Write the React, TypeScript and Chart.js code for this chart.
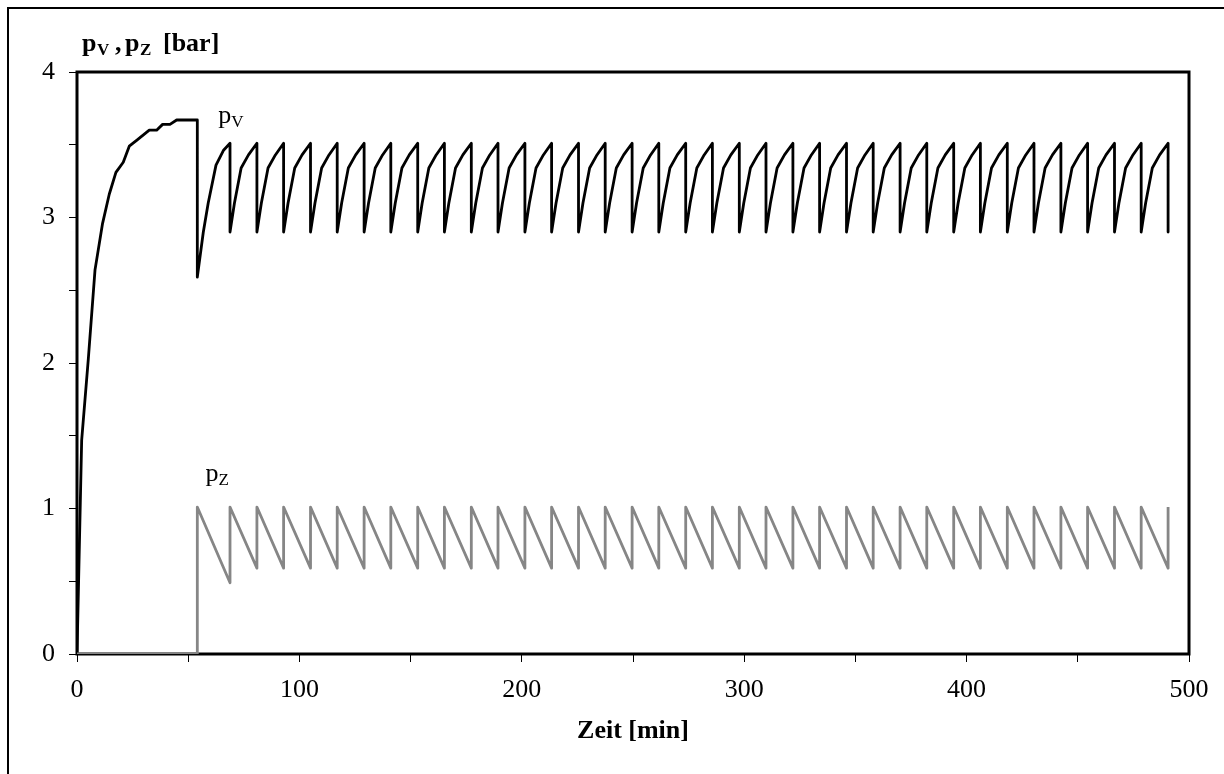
import React, { useEffect, useRef } from 'react';
import { Chart, registerables } from 'chart.js';

Chart.register(...registerables);

// Tick labels shown on the axes (other tick marks are unlabelled minor ticks)
const xTickLabels = ['0', '100', '200', '300', '400', '500'];
const yTickLabels = ['0', '1', '2', '3', '4'];

// p_V (black) – time [min]
const pvTimes = [
  0, 2.1, 5.1, 8.1, 11.5, 14.5, 17.5, 20.8, 23.5, 26.8, 32.5, 35.8, 38.5, 41.8, 44.8, 54.1,
  54.1, 56.8, 59.0, 62.5, 65.8, 68.8,
  68.8, 70.8, 73.8, 77.1, 80.9,
  80.9, 82.9, 85.9, 89.2, 92.9,
  92.9, 94.9, 97.9, 101.2, 105.0,
  105.0, 107.0, 110.0, 113.3, 117.0,
  117.0, 119.0, 122.0, 125.3, 129.1,
  129.1, 131.1, 134.1, 137.4, 141.1,
  141.1, 143.1, 146.1, 149.4, 153.2,
  153.2, 155.2, 158.2, 161.5, 165.2,
  165.2, 167.2, 170.2, 173.5, 177.3,
  177.3, 179.3, 182.3, 185.6, 189.3,
  189.3, 191.3, 194.3, 197.6, 201.4,
  201.4, 203.4, 206.4, 209.7, 213.4,
  213.4, 215.4, 218.4, 221.7, 225.5,
  225.5, 227.5, 230.5, 233.8, 237.5,
  237.5, 239.5, 242.5, 245.8, 249.6,
  249.6, 251.6, 254.6, 257.9, 261.6,
  261.6, 263.6, 266.6, 269.9, 273.7,
  273.7, 275.7, 278.7, 282.0, 285.7,
  285.7, 287.7, 290.7, 294.0, 297.8,
  297.8, 299.8, 302.8, 306.1, 309.8,
  309.8, 311.8, 314.8, 318.1, 321.9,
  321.9, 323.9, 326.9, 330.2, 333.9,
  333.9, 335.9, 338.9, 342.2, 346.0,
  346.0, 348.0, 351.0, 354.3, 358.0,
  358.0, 360.0, 363.0, 366.3, 370.1,
  370.1, 372.1, 375.1, 378.4, 382.1,
  382.1, 384.1, 387.1, 390.4, 394.2,
  394.2, 396.2, 399.2, 402.5, 406.2,
  406.2, 408.2, 411.2, 414.5, 418.3,
  418.3, 420.3, 423.3, 426.6, 430.3,
  430.3, 432.3, 435.3, 438.6, 442.4,
  442.4, 444.4, 447.4, 450.7, 454.4,
  454.4, 456.4, 459.4, 462.7, 466.5,
  466.5, 468.5, 471.5, 474.8, 478.5,
  478.5, 480.5, 483.5, 486.8, 490.6,
  490.6,
];

// p_V (black) – pressure [bar]
const pvValues = [
  0, 1.47, 2.03, 2.64, 2.96, 3.16, 3.31, 3.38, 3.49, 3.53, 3.60, 3.60, 3.64, 3.64, 3.67, 3.67,
  2.59, 2.90, 3.10, 3.36, 3.46, 3.51,
  2.90, 3.10, 3.34, 3.43, 3.51,
  2.90, 3.10, 3.34, 3.43, 3.51,
  2.90, 3.10, 3.34, 3.43, 3.51,
  2.90, 3.10, 3.34, 3.43, 3.51,
  2.90, 3.10, 3.34, 3.43, 3.51,
  2.90, 3.10, 3.34, 3.43, 3.51,
  2.90, 3.10, 3.34, 3.43, 3.51,
  2.90, 3.10, 3.34, 3.43, 3.51,
  2.90, 3.10, 3.34, 3.43, 3.51,
  2.90, 3.10, 3.34, 3.43, 3.51,
  2.90, 3.10, 3.34, 3.43, 3.51,
  2.90, 3.10, 3.34, 3.43, 3.51,
  2.90, 3.10, 3.34, 3.43, 3.51,
  2.90, 3.10, 3.34, 3.43, 3.51,
  2.90, 3.10, 3.34, 3.43, 3.51,
  2.90, 3.10, 3.34, 3.43, 3.51,
  2.90, 3.10, 3.34, 3.43, 3.51,
  2.90, 3.10, 3.34, 3.43, 3.51,
  2.90, 3.10, 3.34, 3.43, 3.51,
  2.90, 3.10, 3.34, 3.43, 3.51,
  2.90, 3.10, 3.34, 3.43, 3.51,
  2.90, 3.10, 3.34, 3.43, 3.51,
  2.90, 3.10, 3.34, 3.43, 3.51,
  2.90, 3.10, 3.34, 3.43, 3.51,
  2.90, 3.10, 3.34, 3.43, 3.51,
  2.90, 3.10, 3.34, 3.43, 3.51,
  2.90, 3.10, 3.34, 3.43, 3.51,
  2.90, 3.10, 3.34, 3.43, 3.51,
  2.90, 3.10, 3.34, 3.43, 3.51,
  2.90, 3.10, 3.34, 3.43, 3.51,
  2.90, 3.10, 3.34, 3.43, 3.51,
  2.90, 3.10, 3.34, 3.43, 3.51,
  2.90, 3.10, 3.34, 3.43, 3.51,
  2.90, 3.10, 3.34, 3.43, 3.51,
  2.90, 3.10, 3.34, 3.43, 3.51,
  2.90,
];

// p_Z (grey) – time [min]
const pzTimes = [
  0, 54.1, 54.1,
  68.8, 68.8, 80.9, 80.9, 92.9, 92.9, 105.0, 105.0, 117.0, 117.0, 129.1, 129.1,
  141.1, 141.1, 153.2, 153.2, 165.2, 165.2, 177.3, 177.3, 189.3, 189.3, 201.4, 201.4,
  213.4, 213.4, 225.5, 225.5, 237.5, 237.5, 249.6, 249.6, 261.6, 261.6, 273.7, 273.7,
  285.7, 285.7, 297.8, 297.8, 309.8, 309.8, 321.9, 321.9, 333.9, 333.9, 346.0, 346.0,
  358.0, 358.0, 370.1, 370.1, 382.1, 382.1, 394.2, 394.2, 406.2, 406.2, 418.3, 418.3,
  430.3, 430.3, 442.4, 442.4, 454.4, 454.4, 466.5, 466.5, 478.5, 478.5, 490.6, 490.6,
];

// p_Z (grey) – pressure [bar]
const pzValues = [
  0, 0, 1.01,
  0.49, 1.01, 0.59, 1.01, 0.59, 1.01, 0.59, 1.01, 0.59, 1.01, 0.59, 1.01,
  0.59, 1.01, 0.59, 1.01, 0.59, 1.01, 0.59, 1.01, 0.59, 1.01, 0.59, 1.01,
  0.59, 1.01, 0.59, 1.01, 0.59, 1.01, 0.59, 1.01, 0.59, 1.01, 0.59, 1.01,
  0.59, 1.01, 0.59, 1.01, 0.59, 1.01, 0.59, 1.01, 0.59, 1.01, 0.59, 1.01,
  0.59, 1.01, 0.59, 1.01, 0.59, 1.01, 0.59, 1.01, 0.59, 1.01, 0.59, 1.01,
  0.59, 1.01, 0.59, 1.01, 0.59, 1.01, 0.59, 1.01, 0.59, 1.01, 0.59, 1.01,
];

const SERIF = '"Liberation Serif", "Times New Roman", serif';

const framePlugin = {
  id: 'plotFrame',
  beforeDatasetsDraw(chart: any) {
    const { ctx, chartArea } = chart;
    ctx.save();
    ctx.strokeStyle = '#000';
    ctx.lineWidth = 3;
    ctx.strokeRect(chartArea.left, chartArea.top, chartArea.right - chartArea.left, chartArea.bottom - chartArea.top);
    ctx.restore();
  },
};

function drawSegments(ctx: CanvasRenderingContext2D, segs: { t: string; x: number; y: number; font: string }[]) {
  for (const s of segs) {
    ctx.font = s.font;
    ctx.fillText(s.t, s.x, s.y);
  }
}

const labelPlugin = {
  id: 'textLabels',
  afterDraw(chart: any) {
    const { ctx } = chart;
    const xs = chart.scales.x;
    const ys = chart.scales.y;
    ctx.save();
    ctx.fillStyle = '#000';
    ctx.textBaseline = 'alphabetic';
    ctx.textAlign = 'left';
    const big = `bold 26px ${SERIF}`;
    const small = `bold 17px ${SERIF}`;
    // y-axis title: p_V , p_Z [bar]
    drawSegments(ctx, [
      { t: 'p', x: 82, y: 51, font: big },
      { t: 'V', x: 97, y: 55, font: small },
      { t: ',', x: 115, y: 51, font: big },
      { t: 'p', x: 125, y: 51, font: big },
      { t: 'Z', x: 140, y: 55, font: small },
      { t: '[bar]', x: 163, y: 51, font: big },
    ]);
    // series labels, anchored in data coordinates
    const nBig = `26px ${SERIF}`;
    const nSmall = `17px ${SERIF}`;
    const pvx = xs.getPixelForValue(63.5);
    const pvy = ys.getPixelForValue(3.65);
    drawSegments(ctx, [
      { t: 'p', x: pvx, y: pvy, font: nBig },
      { t: 'V', x: pvx + 13, y: pvy + 4, font: nSmall },
    ]);
    const pzx = xs.getPixelForValue(57.8);
    const pzy = ys.getPixelForValue(1.19);
    drawSegments(ctx, [
      { t: 'p', x: pzx, y: pzy, font: nBig },
      { t: 'Z', x: pzx + 13, y: pzy + 4, font: nSmall },
    ]);
    ctx.restore();
  },
};

export default function App() {
  const ref = useRef<HTMLCanvasElement | null>(null);

  useEffect(() => {
    if (!ref.current) return;
    const pvData = pvTimes.map((t, i) => ({ x: t, y: pvValues[i] }));
    const pzData = pzTimes.map((t, i) => ({ x: t, y: pzValues[i] }));
    const chart = new Chart(ref.current, {
      type: 'line',
      data: {
        datasets: [
          {
            label: 'pZ',
            data: pzData,
            borderColor: '#868686',
            borderWidth: 2.8,
            pointRadius: 0,
            borderJoinStyle: 'round',
            tension: 0,
            fill: false,
          },
          {
            label: 'pV',
            data: pvData,
            borderColor: '#000000',
            borderWidth: 2.8,
            pointRadius: 0,
            borderJoinStyle: 'round',
            tension: 0,
            fill: false,
          },
        ],
      },
      options: {
        responsive: false,
        animation: false,
        devicePixelRatio: 1,
        events: [],
        layout: { padding: { left: 0, top: 72, right: 35, bottom: 0 } },
        plugins: {
          legend: { display: false },
          tooltip: { enabled: false },
          title: { display: false },
        },
        scales: {
          x: {
            type: 'linear',
            min: 0,
            max: 500,
            afterFit: (s: any) => {
              s.height = 120;
            },
            border: { display: false },
            grid: {
              drawOnChartArea: false,
              drawTicks: true,
              tickLength: 8,
              color: '#000',
              lineWidth: 1,
            },
            ticks: {
              stepSize: 50,
              autoSkip: false,
              maxRotation: 0,
              padding: 13,
              color: '#000',
              font: { family: SERIF, size: 26 },
              callback: (v: any) => (xTickLabels.includes(String(v)) ? String(v) : ''),
            },
            title: {
              display: true,
              text: 'Zeit [min]',
              color: '#000',
              font: { family: SERIF, size: 26, weight: 'bold' },
              padding: { top: 0, bottom: 27 },
            },
          },
          y: {
            type: 'linear',
            min: 0,
            max: 4,
            afterFit: (s: any) => {
              s.width = 77;
            },
            border: { display: false },
            grid: {
              drawOnChartArea: false,
              drawTicks: true,
              tickLength: 8,
              color: '#000',
              lineWidth: 1,
            },
            ticks: {
              stepSize: 0.5,
              autoSkip: false,
              padding: 14,
              color: '#000',
              font: { family: SERIF, size: 26 },
              callback: (v: any) => (yTickLabels.includes(String(v)) ? String(v) : ''),
            },
          },
        },
      },
      plugins: [framePlugin, labelPlugin],
    } as any);
    return () => chart.destroy();
  }, []);

  return (
    <div>
      <div
        style={{
          position: 'fixed',
          left: 7,
          top: 7,
          width: 1400,
          height: 1000,
          borderLeft: '2px solid #000',
          borderTop: '2px solid #000',
        }}
      />
      <canvas
        ref={ref}
        width={1224}
        height={774}
        style={{ position: 'fixed', left: 0, top: 0, width: 1224, height: 774, display: 'block' }}
      />
    </div>
  );
}
